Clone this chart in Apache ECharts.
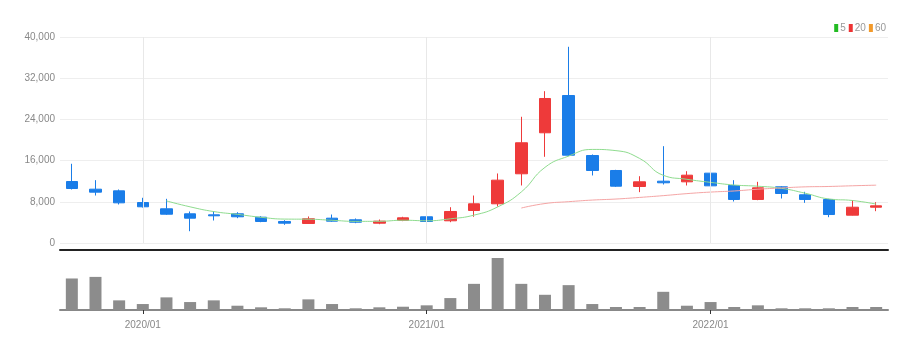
<!DOCTYPE html>
<html>
<head>
<meta charset="utf-8">
<script src="https://cdn.jsdelivr.net/npm/echarts@6/dist/echarts.min.js"></script>
<style>
html,body{margin:0;padding:0;background:#fff;}
#chart{width:921px;height:348px;}
</style>
</head>
<body>
<div id="chart"></div>
<script>
// Monthly categories
const categories = ['2019/10','2019/11','2019/12','2020/01','2020/02','2020/03','2020/04','2020/05','2020/06','2020/07','2020/08','2020/09','2020/10','2020/11','2020/12','2021/01','2021/02','2021/03','2021/04','2021/05','2021/06','2021/07','2021/08','2021/09','2021/10','2021/11','2021/12','2022/01','2022/02','2022/03','2022/04','2022/05','2022/06','2022/07','2022/08'];
const opens  = [11940,10450,10130,7860,6640,5670,5470,5670,5010,4180,3790,4820,4500,3850,4370,5090,4310,6310,7610,13440,21400,28640,16990,14080,10970,12000,11880,13560,11170,8450,10910,9360,8450,5400,6950];
const closes = [10580,9870,7800,7030,5590,4820,5280,5090,4180,3850,4700,4240,4040,4240,4890,4180,6120,7610,12200,19460,28060,17050,14080,11030,11880,11690,13170,11100,8450,10720,9610,8450,5530,6950,7220];
const lows   = [10390,9220,7480,6890,5470,2290,4370,4820,4040,3530,3730,4120,3850,3650,4240,4040,4040,5090,7090,11170,16740,16860,13110,10900,9870,11360,11170,10390,8060,8310,8640,7800,5010,5340,6180];
const highs  = [15380,12200,10390,8780,8580,6120,6180,5980,5210,4430,5150,5530,4760,4560,5090,5400,6950,9220,13500,24510,29480,38100,17190,14210,12970,18800,13940,17380,12200,11880,11030,9940,8580,8310,7920];
const volumes = [3170000,3330000,970000,600000,1270000,800000,970000,430000,270000,170000,1070000,600000,170000,270000,330000,470000,1200000,2630000,5230000,2630000,1530000,2500000,600000,300000,300000,1830000,430000,800000,300000,470000,170000,170000,170000,300000,300000];
const ma5  = ['-','-','-','-',8174,7022,6104,5562,4992,4644,4620,4412,4202,4214,4422,4318,4694,5408,7000,9914,14690,16876,18170,17936,16420,13146,12370,11774,11258,11026,10610,9666,8552,8252,7552];
const ma20 = ['-','-','-','-','-','-','-','-','-','-','-','-','-','-','-','-','-','-','-',6789,7663,8022,8336,8536,8850,9194,9588,9889,10102,10446,10691,10902,10976,11112,11228];
const ma60 = [];
const yearMarks = ['2020/01','2021/01','2022/01'];

const FONT = "'Liberation Sans Narrow', 'Liberation Sans', sans-serif";
const isYear = (i, v) => yearMarks.indexOf(v) >= 0;

const candleData = categories.map((c, i) => [opens[i], closes[i], lows[i], highs[i]]);

const chart = echarts.init(document.getElementById('chart'), null, {renderer: 'canvas'});
chart.setOption({
  animation: false,
  backgroundColor: '#fff',
  textStyle: {fontFamily: FONT},
  legend: {
    right: 30, top: 18,
    itemWidth: 4, itemHeight: 8, itemGap: 3,
    icon: 'rect',
    textStyle: {color: '#999', fontSize: 10, fontFamily: FONT, padding: [0,0,0,-3]},
    data: ['5','20','60']
  },
  grid: [
    {left: 60, right: 33, top: 37, height: 206},
    {left: 60, right: 33, top: 258, height: 52}
  ],
  xAxis: [
    {
      type: 'category', gridIndex: 0, data: categories, boundaryGap: true,
      offset: 7,
      axisLine: {show: true, onZero: false, lineStyle: {color: '#222', width: 2}},
      axisTick: {show: false}, axisLabel: {show: false}, splitLine: {show: false}
    },
    {
      type: 'category', gridIndex: 1, data: categories, boundaryGap: true,
      axisLine: {show: true, onZero: false, lineStyle: {color: '#888', width: 2}},
      axisTick: {show: true, interval: isYear, alignWithLabel: true, length: 4, lineStyle: {color: '#333'}},
      axisLabel: {interval: isYear, color: '#888', fontSize: 10, fontFamily: FONT, margin: 10},
      splitLine: {show: false}
    }
  ],
  yAxis: [
    {
      type: 'value', gridIndex: 0, min: 0, max: 40000, interval: 8000,
      axisLine: {show: false}, axisTick: {show: false},
      axisLabel: {color: '#888', fontSize: 10, fontFamily: FONT, margin: 5,
        formatter: v => v.toLocaleString('en-US')},
      splitLine: {lineStyle: {color: '#eee', width: 1}}
    },
    {
      type: 'value', gridIndex: 1, min: 0, max: 'dataMax', show: false,
      splitLine: {show: false}
    }
  ],
  series: [
    {
      name: 'candle', type: 'candlestick', xAxisIndex: 0, yAxisIndex: 0,
      data: candleData, barWidth: 12,
      itemStyle: {color: '#ee3a3a', color0: '#1a7de8', borderColor: '#ee3a3a', borderColor0: '#1a7de8', borderWidth: 1},
      markLine: {
        silent: true, symbol: ['none','none'], label: {show: false},
        lineStyle: {color: '#e8e8e8', type: 'solid', width: 1},
        data: yearMarks.map(m => ({xAxis: m}))
      }
    },
    {
      name: '5', type: 'line', xAxisIndex: 0, yAxisIndex: 0, data: ma5,
      smooth: true, showSymbol: false, symbol: 'none',
      itemStyle: {color: '#22bb22'},
      lineStyle: {color: '#8fdc8f', width: 1}
    },
    {
      name: '20', type: 'line', xAxisIndex: 0, yAxisIndex: 0, data: ma20,
      smooth: true, showSymbol: false, symbol: 'none',
      itemStyle: {color: '#ee3333'},
      lineStyle: {color: '#f5a5a5', width: 1}
    },
    {
      name: '60', type: 'line', xAxisIndex: 0, yAxisIndex: 0, data: ma60,
      smooth: true, showSymbol: false, symbol: 'none',
      itemStyle: {color: '#f39a2b'},
      lineStyle: {color: '#f8c58f', width: 1}
    },
    {
      name: 'volume', type: 'bar', xAxisIndex: 1, yAxisIndex: 1,
      data: volumes, barWidth: 12,
      itemStyle: {color: '#8c8c8c'}
    }
  ]
});
</script>
</body>
</html>
